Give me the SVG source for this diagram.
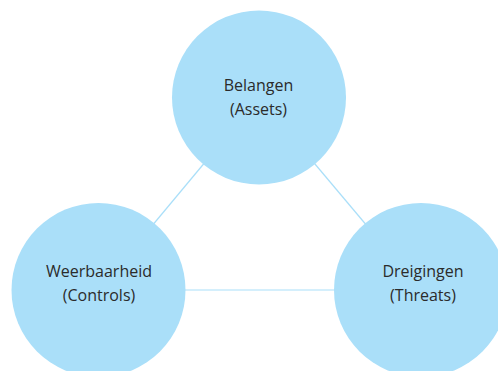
<svg xmlns="http://www.w3.org/2000/svg" width="498" height="371" viewBox="0 0 498 371">
<style>
.node{fill:#aadff9}
.edge{stroke:#aadff9;stroke-width:1.2;fill:none}
.lbl{font-family:"Open Sans","Noto Sans",sans-serif;font-size:16px;fill:#2b2b2b;text-anchor:middle}
</style>
<rect width="498" height="371" fill="#ffffff"/>
<g id="connectors">
<line class="edge" x1="259" y1="97.5" x2="98.5" y2="290"/>
<line class="edge" x1="259" y1="97.5" x2="421" y2="290"/>
<line class="edge" x1="98.5" y1="290" x2="421" y2="290"/>
</g>
<g id="belangen">
<circle class="node" cx="259" cy="97.5" r="87"/>
<text class="lbl" x="258.5" y="91">Belangen</text>
<text class="lbl" x="258.5" y="115">(Assets)</text>
</g>
<g id="weerbaarheid">
<circle class="node" cx="98.5" cy="290" r="87"/>
<text class="lbl" x="99" y="277">Weerbaarheid</text>
<text class="lbl" x="99" y="301">(Controls)</text>
</g>
<g id="dreigingen">
<circle class="node" cx="421" cy="290" r="87"/>
<text class="lbl" x="423" y="277">Dreigingen</text>
<text class="lbl" x="423" y="301">(Threats)</text>
</g>
</svg>
